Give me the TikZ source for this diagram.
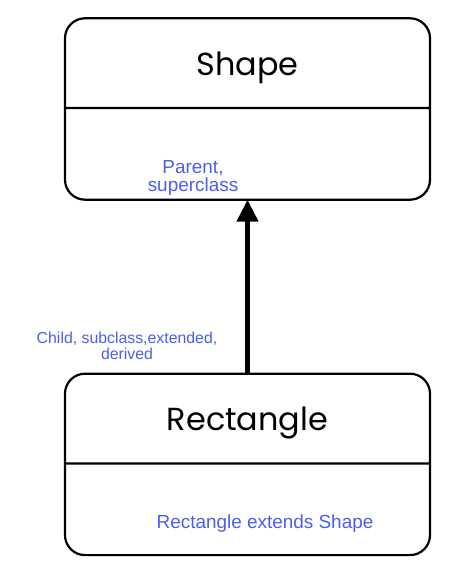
\documentclass[tikz,border=0pt]{standalone}
\usepackage{fontspec}
\setmainfont{Liberation Sans}
\newfontfamily\poppins{Poppins}
\usetikzlibrary{shapes.multipart, arrows.meta, positioning}
\definecolor{noteBlue}{HTML}{4B5EF0}

\begin{document}
\begin{tikzpicture}[
  x=1bp, y=-1bp,
  umlbox/.style={rectangle split, rectangle split parts=2, draw, line width=2.2bp, rounded corners=20bp, inner sep=0pt, outer sep=0pt, font=\poppins\fontsize{32}{36}\selectfont},
  note/.style={text=noteBlue, align=center, fill=white, rounded corners=3bp, inner sep=1.5bp, font=\fontsize{19}{18.5}\selectfont},
  smallnote/.style={note, font=\fontsize{15.9}{16}\selectfont},
  inherit/.style={-{Triangle[length=22bp, width=21bp]}, line width=4.5bp},
]
\useasboundingbox (0,0) rectangle (473,576);

\node[umlbox] (shape) at (247.5,109) {\parbox[c][87.5bp][c]{365bp}{\centering\raisebox{-12bp}[0pt][0pt]{Shape}}\nodepart{two}\parbox[c][89.5bp][c]{365bp}{\hfill}};
\node[umlbox, below=174bp of shape] (rect) {\parbox[c][87.5bp][c]{365bp}{\centering\raisebox{-12bp}[0pt][0pt]{Rectangle}}\nodepart{two}\parbox[c][89.5bp][c]{365bp}{\hfill}};

\draw[inherit] (rect.north) -- (shape.south);

\node[note] (parent) at (193,178) {Parent,\\superclass};
\node[smallnote] (child) at (127,346) {Child, subclass,extended,\\derived};
\node[note] (extends) at (265,524) {Rectangle extends Shape};

\end{tikzpicture}
\end{document}
